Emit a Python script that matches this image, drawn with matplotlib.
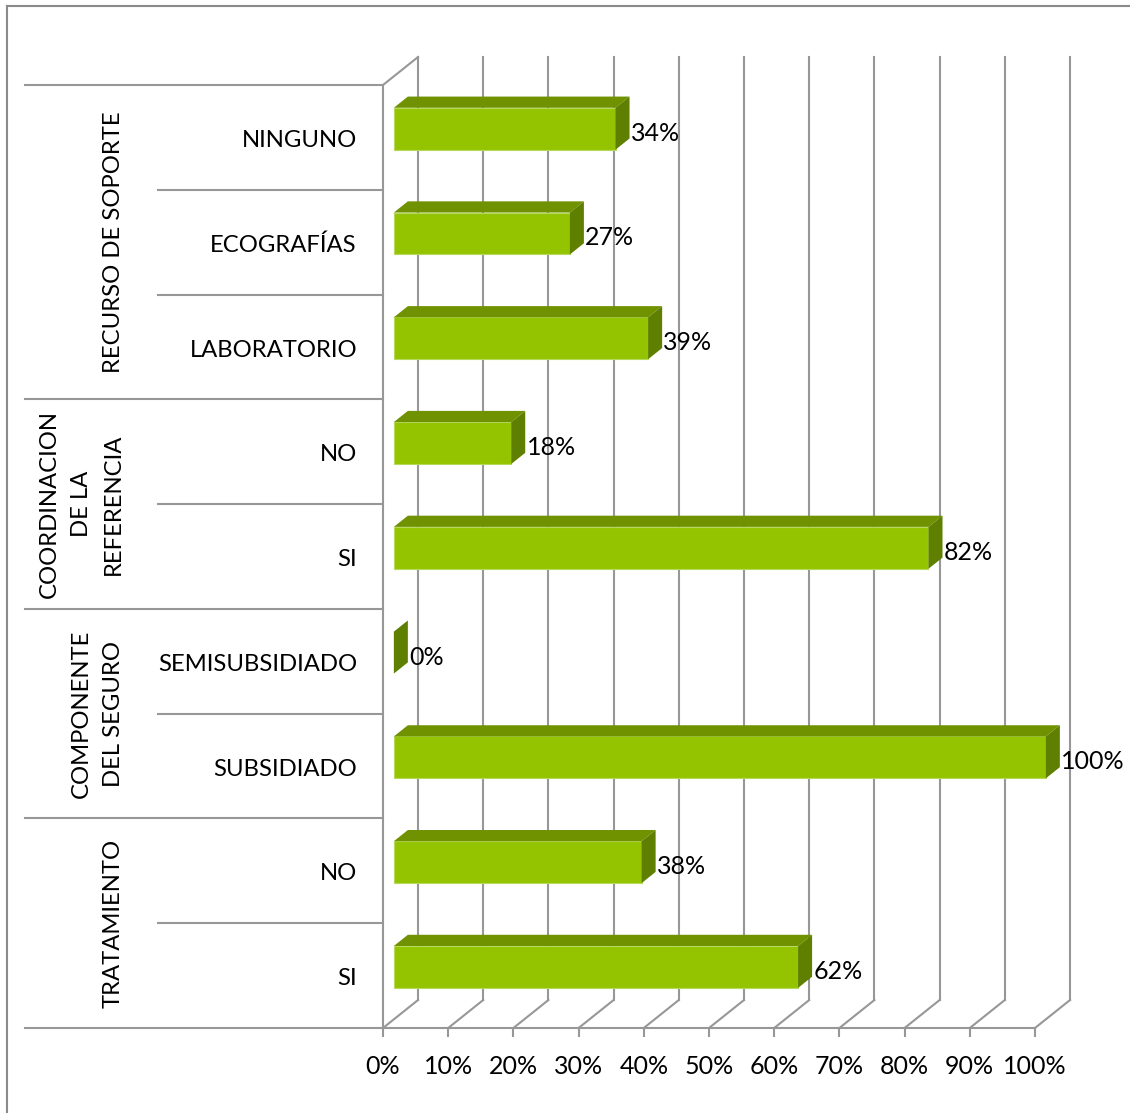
"""
Gráfico de barras horizontales con efecto 3D (estilo Excel)
===========================================================
Porcentajes por indicador agrupados por dimensión.
"""

import numpy as np
import matplotlib.pyplot as plt
from matplotlib.patches import Polygon
from matplotlib.lines import Line2D
from matplotlib.transforms import blended_transform_factory


# =============================================================================
# 1. DATOS (de abajo hacia arriba)
# =============================================================================

grupos = ['TRATAMIENTO', 'COMPONENTE\nDEL SEGURO',
          'COORDINACION\nDE LA\nREFERENCIA', 'RECURSO DE SOPORTE']
categorias_por_grupo = [
    ['SI', 'NO'],
    ['SUBSIDIADO', 'SEMISUBSIDIADO'],
    ['SI', 'NO'],
    ['LABORATORIO', 'ECOGRAFÍAS', 'NINGUNO'],
]
valores_por_grupo = [
    [62, 38],
    [100, 0],
    [82, 18],
    [39, 27, 34],
]
ticks_x = np.arange(0, 101, 10)

categorias = [c for grupo in categorias_por_grupo for c in grupo]
valores = np.array([v for grupo in valores_por_grupo for v in grupo], dtype=float)
n_filas = len(categorias)


# =============================================================================
# 2. ESTILO
# =============================================================================

plt.rcParams['font.family'] = ['Lato', 'DejaVu Sans']

COLOR_FRENTE = '#94C400'
COLOR_TECHO = '#709200'
COLOR_LADO = '#5F7F00'
COLOR_GRILLA = '#979797'
LW = 1.5
FS_TEXTO = 17.2
FS_NUM = 18

PROF_X = 5.37      # profundidad del piso en % del eje
PROF_Y = 0.267     # profundidad del piso en filas
P0, P1 = 0.31, 0.71  # fracciones de profundidad que ocupa la barra
ALTO = 0.40

fig = plt.figure(figsize=(11.3, 11.13), dpi=100)
ax = fig.add_axes([383 / 1130, 85 / 1113, 652 / 1130, 943 / 1113])
ax.set_xlim(0, 100)
ax.set_ylim(0, n_filas)
for s in ax.spines.values():
    s.set_visible(False)

# Marco exterior (recortado a derecha y abajo)
fig.add_artist(Line2D([7 / 1130, 7 / 1130], [0, 1 - 6 / 1113],
                      transform=fig.transFigure, color='#8a8a8a', lw=LW))
fig.add_artist(Line2D([7 / 1130, 1], [1 - 6 / 1113, 1 - 6 / 1113],
                      transform=fig.transFigure, color='#8a8a8a', lw=LW))

# =============================================================================
# 3. PAREDES, PISO Y GRILLA
# =============================================================================

for t in ticks_x:
    # línea del piso hacia el fondo
    ax.plot([t, t + PROF_X], [0, PROF_Y], color=COLOR_GRILLA, lw=LW,
            clip_on=False, zorder=1)
    # grilla vertical en la pared de fondo
    ax.plot([t + PROF_X, t + PROF_X], [PROF_Y, n_filas + PROF_Y],
            color=COLOR_GRILLA, lw=LW, clip_on=False, zorder=1)

# pared lateral izquierda
ax.plot([0, 0], [0, n_filas], color=COLOR_GRILLA, lw=LW, clip_on=False, zorder=1)
ax.plot([0, PROF_X], [n_filas, n_filas + PROF_Y], color=COLOR_GRILLA, lw=LW,
        clip_on=False, zorder=1)
ax.plot([0, 100], [0, 0], color=COLOR_GRILLA, lw=LW, clip_on=False, zorder=1)

# ticks del eje x
ax.set_xticks(ticks_x)
ax.set_xticklabels([f'{t}%' for t in ticks_x], fontsize=FS_NUM)
ax.tick_params(axis='x', direction='out', length=6.5, width=LW,
               color=COLOR_GRILLA, pad=13)
ax.set_yticks([])

# =============================================================================
# 4. BARRAS 3D
# =============================================================================

for i, v in enumerate(valores):
    y0 = i + 0.5 - ALTO / 2 + P0 * PROF_Y
    y1 = y0 + ALTO
    x0 = P0 * PROF_X
    dx = (P1 - P0) * PROF_X
    dy = (P1 - P0) * PROF_Y
    frente = [(x0, y0), (x0 + v, y0), (x0 + v, y1), (x0, y1)]
    techo = [(x0, y1), (x0 + v, y1), (x0 + v + dx, y1 + dy), (x0 + dx, y1 + dy)]
    lado = [(x0 + v, y0), (x0 + v + dx, y0 + dy), (x0 + v + dx, y1 + dy), (x0 + v, y1)]
    if v > 0:
        ax.add_patch(Polygon(frente, closed=True, facecolor=COLOR_FRENTE,
                             edgecolor='#b5d95a', lw=0.8, zorder=3, clip_on=False))
        ax.add_patch(Polygon(techo, closed=True, facecolor=COLOR_TECHO,
                             edgecolor='none', zorder=3, clip_on=False))
    ax.add_patch(Polygon(lado, closed=True, facecolor=COLOR_LADO,
                         edgecolor='none', zorder=3, clip_on=False))
    ax.text(x0 + v + dx + 0.2, i + 0.54, f'{v:.0f}%', fontsize=FS_NUM,
            ha='left', va='center', zorder=4)

# =============================================================================
# 5. ETIQUETAS DE CATEGORÍA Y GRUPOS
# =============================================================================

trans = blended_transform_factory(ax.transAxes, ax.transData)
x_grupo = (25 - 383) / 652
x_sub = (158 - 383) / 652

for i, cat in enumerate(categorias):
    ax.text((357 - 383) / 652, i + 0.47, cat, transform=trans, fontsize=FS_TEXTO,
            ha='right', va='center')

inicio = 0
limites_grupo = [0]
for g, cats in zip(grupos, categorias_por_grupo):
    fin = inicio + len(cats)
    limites_grupo.append(fin)
    ax.text((124 - 383) / 652, (inicio + fin) / 2, g, transform=trans,
            fontsize=FS_TEXTO, rotation=90, ha='right', va='center',
            multialignment='center', linespacing=1.65)
    for k in range(inicio + 1, fin):
        ax.plot([x_sub, 0], [k, k], color=COLOR_GRILLA, lw=LW, transform=trans,
                clip_on=False, zorder=1)
    inicio = fin

for b in limites_grupo:
    ax.plot([x_grupo, 0], [b, b], color=COLOR_GRILLA, lw=LW, transform=trans,
            clip_on=False, zorder=1)

fig.savefig('out.png', dpi=100)
